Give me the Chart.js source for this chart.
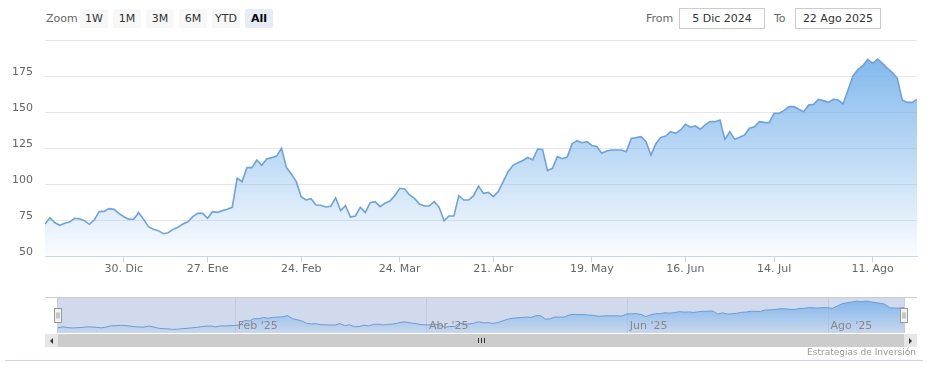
<!DOCTYPE html>
<html><head><meta charset="utf-8">
<script src="https://cdn.jsdelivr.net/npm/chart.js@4.4.1/dist/chart.umd.min.js"></script>
<style>
html,body{margin:0;padding:0;background:#fff;}
body{width:931px;height:372px;position:relative;overflow:hidden;font-family:"DejaVu Sans",Verdana,sans-serif;}
canvas{position:absolute;left:0;}
#main{top:0;}
#nav{top:290px;}
.lbl{position:absolute;font-size:11px;color:#666;top:12px;line-height:13px;}
.btn{position:absolute;top:9px;height:19px;width:28px;background:#f7f7f7;color:#333;font-size:11px;line-height:19px;text-align:center;border-radius:2px;}
.btn.sel{background:#e6ebf5;color:#000;font-weight:bold;}
.inp{position:absolute;top:8px;height:19px;width:84px;border:1px solid #cccccc;font-size:11px;color:#333;line-height:19px;text-align:center;}
#track{position:absolute;left:45px;top:334px;width:872px;height:13px;background:#f2f2f2;}
#thumb{position:absolute;left:58px;top:334px;width:846px;height:13px;background:#cccccc;}
.sbtn{position:absolute;top:334px;width:13px;height:13px;background:#e6e6e6;}
.grip{position:absolute;top:338px;width:1px;height:5px;background:#333;}
.tri{position:absolute;top:338px;width:0;height:0;border-top:3px solid transparent;border-bottom:3px solid transparent;}
#credits{position:absolute;right:15px;top:347px;font-size:9px;color:#999;}
#bline{position:absolute;left:5px;top:360px;width:918px;height:1px;background:#cdd3e3;}
</style>
</head><body>
<div class="lbl" style="left:46px">Zoom</div>
<div class="btn" style="left:80px">1W</div>
<div class="btn" style="left:113px">1M</div>
<div class="btn" style="left:146px">3M</div>
<div class="btn" style="left:179px">6M</div>
<div class="btn" style="left:212px">YTD</div>
<div class="btn sel" style="left:245px">All</div>
<div class="lbl" style="left:646px">From</div>
<div class="inp" style="left:679px">5 Dic 2024</div>
<div class="lbl" style="left:774px">To</div>
<div class="inp" style="left:795px">22 Ago 2025</div>

<canvas id="main" width="931" height="290"></canvas>
<canvas id="nav" width="931" height="60"></canvas>

<div id="track"></div>
<div id="thumb"></div>
<div class="sbtn" style="left:45px"></div>
<div class="sbtn" style="left:904px"></div>
<div class="tri" style="left:50px;border-right:3px solid #333"></div>
<div class="tri" style="left:909px;border-left:3px solid #333"></div>
<div class="grip" style="left:478px"></div>
<div class="grip" style="left:481px"></div>
<div class="grip" style="left:484px"></div>
<div id="credits">Estrategias de Inversión</div>
<div id="bline"></div>

<script>
// Daily closing values (one per trading day, 5 Dic 2024 .. 22 Ago 2025)
const values = [72.2, 76.6, 73.1, 71.3, 72.7, 73.6, 76.2, 75.9, 74.5, 72.0, 75.0, 80.8, 81.0, 82.9, 82.4, 79.6, 77.3, 75.5, 75.5, 80.1,
  75.5, 70.4, 68.5, 67.6, 65.5, 66.2, 68.5, 69.9, 72.2, 73.8, 77.3, 79.6, 79.6, 76.2, 80.8, 80.3, 81.5, 82.4, 83.8, 104.0,
  101.6, 111.4, 111.4, 116.7, 113.0, 117.4, 118.3, 119.4, 124.8, 111.5, 107.0, 101.6, 91.2, 88.9, 89.8, 85.4, 85.2, 84.0, 84.6, 90.4,
  81.5, 85.0, 77.0, 77.8, 83.8, 80.1, 87.0, 87.7, 84.3, 86.6, 88.2, 91.9, 97.0, 96.5, 92.4, 90.0, 86.1, 84.7, 84.7, 87.7,
  83.8, 74.5, 77.8, 77.8, 91.9, 88.9, 88.9, 91.9, 98.6, 93.5, 94.2, 91.2, 94.7, 101.6, 108.5, 113.0, 114.7, 116.3, 118.4, 116.7,
  124.3, 124.0, 109.3, 110.9, 119.0, 117.6, 118.7, 128.0, 130.1, 128.7, 129.4, 126.8, 126.0, 121.3, 122.9, 123.6, 123.6, 123.6, 122.4, 131.7,
  132.2, 132.9, 129.4, 120.1, 128.0, 132.4, 133.3, 136.3, 135.2, 137.5, 141.5, 139.4, 140.3, 138.0, 141.0, 143.3, 143.3, 144.4, 131.0, 136.3,
  131.0, 132.4, 134.0, 138.7, 139.8, 143.3, 142.8, 142.6, 149.1, 149.1, 150.9, 153.7, 153.7, 151.9, 150.2, 154.9, 155.3, 158.8, 157.9, 156.7,
  158.8, 158.3, 155.6, 165.3, 175.0, 179.5, 182.2, 186.6, 183.8, 186.8, 183.8, 180.3, 177.3, 173.4, 158.3, 156.7, 156.7, 158.8];

// X tick positions (trading-day index) and labels
const xTickIdx = [16, 33, 52, 72, 91, 111, 130, 148, 168];
const xTickLabels = ['30. Dic', '27. Ene', '24. Feb', '24. Mar', '21. Abr', '19. May', '16. Jun', '14. Jul', '11. Ago'];
// Y ticks
const yTicks = [50, 75, 100, 125, 150, 175, 200];
const yTickLabels = ['50', '75', '100', '125', '150', '175', ''];
// Navigator ticks
const navTickIdx = [37, 77, 119, 161];
const navTickLabels = ["Feb '25", "Abr '25", "Jun '25", "Ago '25"];

const FONT = '"DejaVu Sans", Verdana, sans-serif';
const points = values.map((v, i) => ({x: i, y: v}));
const maxVal = Math.max(...values);

function areaGradient(ctx, a0, a1) {
  const chart = ctx.chart;
  const area = chart.chartArea;
  if (!area) return 'rgba(124,181,236,0.3)';
  const top = chart.scales.y.getPixelForValue(maxVal);
  const g = chart.ctx.createLinearGradient(0, top, 0, area.bottom);
  g.addColorStop(0, 'rgba(124,181,236,' + a0 + ')');
  g.addColorStop(1, 'rgba(124,181,236,' + a1 + ')');
  return g;
}

new Chart(document.getElementById('main'), {
  type: 'line',
  data: { datasets: [{
    data: points,
    borderColor: '#6fa2d9',
    borderWidth: 1.6,
    pointRadius: 0,
    tension: 0,
    fill: 'start',
    backgroundColor: (ctx) => areaGradient(ctx, 0.95, 0.04)
  }]},
  options: {
    responsive: false, animation: false, devicePixelRatio: 1,
    layout: { padding: { top: 40, right: 14, left: 0, bottom: 0 } },
    plugins: { legend: { display: false }, tooltip: { enabled: false } },
    scales: {
      x: {
        type: 'linear', min: 0, max: values.length - 1,
        afterBuildTicks: s => { s.ticks = xTickIdx.map(v => ({ value: v })); },
        afterFit: s => { s.height = 34; },
        ticks: { autoSkip: false, maxRotation: 0, color: '#666', padding: 1,
          font: { size: 11, family: FONT },
          callback: (v, i) => xTickLabels[i] },
        grid: { drawOnChartArea: false, tickLength: 6, tickColor: '#ccd6eb', color: '#ccd6eb' },
        border: { color: '#ccd6eb' }
      },
      y: {
        min: 50, max: 200,
        afterBuildTicks: s => { s.ticks = yTicks.map(v => ({ value: v })); },
        afterFit: s => { s.width = 45; },
        ticks: { color: '#666', padding: 12, labelOffset: -4,
          font: { size: 11, family: FONT },
          callback: (v, i) => yTickLabels[i] },
        grid: { color: '#e6e6e6', drawTicks: false },
        border: { display: false }
      }
    }
  }
});

const navPlugin = {
  id: 'navDecor',
  beforeDatasetsDraw(chart) {
    const { ctx, chartArea: a, scales } = chart;
    ctx.save();
    ctx.fillStyle = 'rgba(102,133,194,0.3)';
    ctx.fillRect(a.left, a.top, a.right - a.left, a.bottom - a.top);
    ctx.strokeStyle = 'rgba(0,0,0,0.07)';
    ctx.lineWidth = 1;
    navTickIdx.forEach(v => {
      const x = Math.round(scales.x.getPixelForValue(v)) + 0.5;
      ctx.beginPath(); ctx.moveTo(x, a.top); ctx.lineTo(x, a.bottom); ctx.stroke();
    });
    ctx.restore();
  },
  afterDatasetsDraw(chart) {
    const { ctx, chartArea: a, scales } = chart;
    ctx.save();
    ctx.fillStyle = '#888';
    ctx.font = '11px ' + FONT;
    ctx.textBaseline = 'middle';
    ctx.textAlign = 'left';
    navTickIdx.forEach((v, i) => {
      const x = scales.x.getPixelForValue(v);
      ctx.fillText(navTickLabels[i], x + 3, a.bottom - 7);
    });
    // outline
    ctx.strokeStyle = '#cccccc';
    ctx.lineWidth = 1;
    ctx.beginPath();
    ctx.moveTo(45, a.top - 0.5); ctx.lineTo(917, a.top - 0.5);
    ctx.moveTo(a.left - 0.5, a.top); ctx.lineTo(a.left - 0.5, a.bottom);
    ctx.moveTo(a.right + 0.5, a.top); ctx.lineTo(a.right + 0.5, a.bottom);
    ctx.stroke();
    // handles
    [a.left, a.right].forEach(x => {
      const hx = Math.round(x) - 3.5, hy = a.top + 10.5;
      ctx.fillStyle = '#f2f2f2';
      ctx.strokeStyle = '#999999';
      ctx.fillRect(hx, hy, 7, 14);
      ctx.strokeRect(hx, hy, 7, 14);
      ctx.beginPath();
      ctx.moveTo(hx + 2.5, hy + 4); ctx.lineTo(hx + 2.5, hy + 10);
      ctx.moveTo(hx + 4.5, hy + 4); ctx.lineTo(hx + 4.5, hy + 10);
      ctx.stroke();
    });
    ctx.restore();
  }
};

new Chart(document.getElementById('nav'), {
  type: 'line',
  data: { datasets: [{
    data: points,
    borderColor: '#6b9bd3',
    borderWidth: 1,
    pointRadius: 0,
    tension: 0,
    fill: 'start',
    backgroundColor: (ctx) => areaGradient(ctx, 0.9, 0.1)
  }]},
  options: {
    responsive: false, animation: false, devicePixelRatio: 1,
    layout: { padding: { left: 58, right: 27, top: 8, bottom: 17 } },
    plugins: { legend: { display: false }, tooltip: { enabled: false } },
    scales: {
      x: { type: 'linear', display: false, min: 0, max: values.length - 1 },
      y: { display: false, min: 50, max: 200 }
    }
  },
  plugins: [navPlugin]
});
</script>
</body></html>
